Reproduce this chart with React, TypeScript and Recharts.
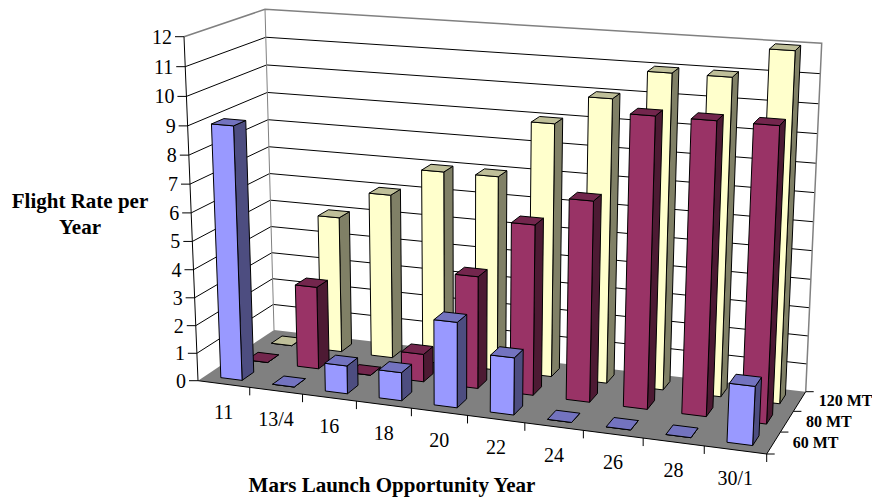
import { BarChart, Bar, XAxis, YAxis } from "recharts";

const years = ["11", "13/4", "16", "18", "20", "22", "24", "26", "28", "30/1"];
const mt60 = [9, 0, 1, 1, 3, 2, 0, 0, 0, 2];
const mt80 = [0, 3, 0, 1, 4, 6, 7, 10, 10, 10];
const mt120 = [0, 5, 6, 7, 7, 9, 10, 11, 11, 12];
const seriesNames = ["60 MT", "80 MT", "120 MT"];
const valueTicks = [0, 1, 2, 3, 4, 5, 6, 7, 8, 9, 10, 11, 12];

const W = 872;
const H = 497;
// the axes take one pixel each, a zero-size axis draws no ticks
const PLOT_W = W - 1;
const PLOT_H = H - 1;
const tableData = years.map((year, i) => ({ year, mt60: mt60[i], mt80: mt80[i], mt120: mt120[i] }));

type Pt = [number, number];

// corners of the box: [front/back][left/right], floor and ceiling
const floorCorners: Pt[] = [[198, 380.7], [766.7, 454], [274, 330], [805.7, 391.7]];
const topCorners: Pt[] = [[184, 36.7], [784, 81], [265, 9.3], [821.7, 43.3]];

// perspective foreshortening along one box direction
const warp = (s: number, r: number) => s / (s + (1 - s) * r);

const mix = (a: Pt, b: Pt, t: number): Pt => [a[0] + (b[0] - a[0]) * t, a[1] + (b[1] - a[1]) * t];

// u: along categories, w: into the depth, v: up the value axis (all 0..1)
function project(u: number, w: number, v: number): Pt {
  const tu = warp(u, 1.11);
  const tw = warp(w, 0.92);
  const tv = warp(v, 1.05);
  const bottom = mix(mix(floorCorners[0], floorCorners[1], tu), mix(floorCorners[2], floorCorners[3], tu), tw);
  const top = mix(mix(topCorners[0], topCorners[1], tu), mix(topCorners[2], topCorners[3], tu), tw);
  return mix(bottom, top, tv);
}

const path = (pts: Pt[]) =>
  "M" + pts.map((p) => `${p[0].toFixed(2)},${p[1].toFixed(2)}`).join("L") + "Z";

const seriesColors = [
  { front: "#9999FF", side: "#4D4D80", top: "#7373BF" },
  { front: "#993366", side: "#4D1A33", top: "#73264D" },
  { front: "#FFFFCC", side: "#808066", top: "#BFBF99" },
];

const DEPTH_FILL = 0.45; // share of a depth slot taken by the bar

// draws the bar as a box, from the rect the scales give; the three bars of a
// category share one slot along u and are separated in depth instead
const boxShape = (seriesIdx: number) => (props: any) => {
  const { x, width, height } = props;
  const groupStart = x - (2 - seriesIdx) * width;
  const u0 = (groupStart - 1) / PLOT_W;
  const u1 = (groupStart + 3 * width - 1) / PLOT_W;
  const v = height / PLOT_H;
  const w0 = (seriesIdx + 0.5 - DEPTH_FILL / 2) / 3;
  const w1 = (seriesIdx + 0.5 + DEPTH_FILL / 2) / 3;
  const c = seriesColors[seriesIdx];
  const faces = [
    { fill: c.side, pts: [project(u1, w0, 0), project(u1, w1, 0), project(u1, w1, v), project(u1, w0, v)] },
    { fill: c.front, pts: [project(u0, w0, 0), project(u1, w0, 0), project(u1, w0, v), project(u0, w0, v)] },
    { fill: c.top, pts: [project(u0, w0, v), project(u1, w0, v), project(u1, w1, v), project(u0, w1, v)] },
  ];
  return (
    <g>
      {faces.map((f, i) => (
        <path key={i} d={path(f.pts)} fill={f.fill} stroke="#000" strokeWidth={1} strokeLinejoin="round" />
      ))}
    </g>
  );
};

const line = (a: Pt, b: Pt, stroke: string, key?: string | number) => (
  <line key={key} x1={a[0]} y1={a[1]} x2={b[0]} y2={b[1]} stroke={stroke} strokeWidth={1} />
);

// floor, walls and gridlines behind the bars
function Walls() {
  const gray = "#808080";
  return (
    <g>
      <path
        d={path([project(0, 0, 0), project(1, 0, 0), project(1, 1, 0), project(0, 1, 0)])}
        fill="#808080"
      />
      {valueTicks.slice(1, -1).map((t) => {
        const v = t / 12;
        return (
          <polyline
            key={t}
            points={[project(0, 0, v), project(0, 1, v), project(1, 1, v)].map((p) => p.join(",")).join(" ")}
            fill="none"
            stroke="#000"
            strokeWidth={1}
          />
        );
      })}
      <polyline
        points={[project(0, 0, 1), project(0, 1, 1), project(1, 1, 1), project(1, 1, 0)].map((p) => p.join(",")).join(" ")}
        fill="none"
        stroke={gray}
        strokeWidth={1.5}
      />
      {line(project(0, 1, 0), project(0, 1, 1), gray)}
    </g>
  );
}

// front axis lines, tick marks, depth labels and titles
function Frame() {
  const titleStyle = { fontFamily: "Liberation Serif", fontWeight: 700, fontSize: 21 };
  return (
    <g>
      {line(project(0, 0, 0), project(0, 0, 1), "#000")}
      {line(project(0, 0, 0), project(1, 0, 0), "#000")}
      {line(project(1, 0, 0), project(1, 1, 0), "#000")}
      {years.map((_, i) => {
        const p = project((i + 1) / years.length, 0, 0);
        return line(p, [p[0], p[1] + 8], "#000", `x${i}`);
      })}
      {[0, 1, 2, 3].map((k) => {
        const p = project(1, k / 3, 0);
        return line(p, [p[0] + 8, p[1]], "#000", `d${k}`);
      })}
      {seriesNames.map((name, k) => {
        const p = project(1, (k + 0.5) / 3, 0);
        return (
          <text key={name} x={p[0] + 19} y={p[1] + 5} fontFamily="Liberation Serif" fontWeight={700} fontSize={16} fill="#000">
            {name}
          </text>
        );
      })}
      <text x={80} y={208} textAnchor="middle" fill="#000" style={titleStyle}>Flight Rate per</text>
      <text x={80} y={234} textAnchor="middle" fill="#000" style={titleStyle}>Year</text>
      <text x={392} y={492} textAnchor="middle" fill="#000" style={titleStyle}>Mars Launch Opportunity Year</text>
    </g>
  );
}

const CategoryTick = (props: any) => {
  const p = project((props.x - 1) / PLOT_W, 0, 0);
  return (
    <text x={p[0]} y={p[1] + 35} textAnchor="middle" fontFamily="Liberation Serif" fontSize={20} fill="#000">
      {props.payload.value}
    </text>
  );
};

const ValueTick = (props: any) => {
  const v = (PLOT_H - props.y) / PLOT_H;
  const p = project(0, 0, v);
  return (
    <g>
      <line x1={p[0] - 9} y1={p[1]} x2={p[0]} y2={p[1]} stroke="#000" strokeWidth={1} />
      <text x={p[0] - 12} y={p[1] + 7} textAnchor="end" fontFamily="Liberation Serif" fontSize={20} fill="#000">
        {props.payload.value}
      </text>
    </g>
  );
};

export default function App() {
  return (
    <div style={{ position: "absolute", left: 0, top: 0, width: W, height: H, background: "#fff" }}>
      <BarChart
        width={W}
        height={H}
        data={tableData}
        margin={{ top: 0, right: 0, bottom: 0, left: 0 }}
        barCategoryGap="30%"
        barGap={0}
      >
        <Walls />
        <XAxis dataKey="year" height={1} axisLine={false} tickLine={false} interval={0} tick={CategoryTick} />
        <YAxis width={1} domain={[0, 12]} ticks={valueTicks} interval={0} axisLine={false} tickLine={false} tick={ValueTick} />
        <Bar dataKey="mt120" isAnimationActive={false} shape={boxShape(2)} />
        <Bar dataKey="mt80" isAnimationActive={false} shape={boxShape(1)} />
        <Bar dataKey="mt60" isAnimationActive={false} shape={boxShape(0)} />
        <Frame />
      </BarChart>
    </div>
  );
}
